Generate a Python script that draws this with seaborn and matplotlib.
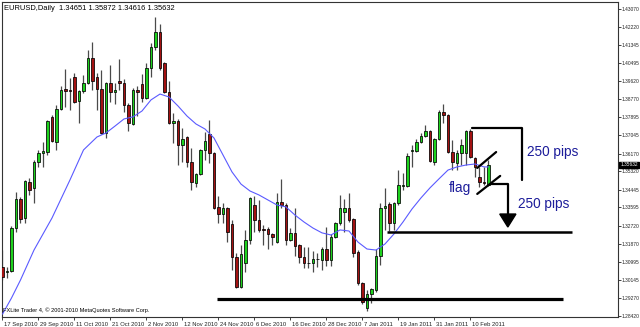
import matplotlib
matplotlib.use("Agg")
import matplotlib.pyplot as plt
import matplotlib.transforms as mtransforms
from matplotlib.patches import Polygon
import numpy as np
import pandas as pd
import seaborn as sns

# ---------------- data (EURUSD daily) ----------------
opens = [1.3076, 1.3051, 1.3056, 1.3262, 1.3400, 1.3309, 1.3481, 1.3453, 1.3576, 1.3620,
         1.3624, 1.3792, 1.3672, 1.3830, 1.3925, 1.3920, 1.3983, 1.3868, 1.3915, 1.3954,
         1.4073, 1.3983, 1.3925, 1.3715, 1.3954, 1.3910, 1.3963, 1.3954, 1.3849, 1.3758,
         1.3920, 1.3949, 1.3882, 1.4025, 1.4126, 1.4197, 1.4049, 1.3910, 1.3763, 1.3772,
         1.3658, 1.3696, 1.3576, 1.3476, 1.3519, 1.3634, 1.3710, 1.3620, 1.3362, 1.3328,
         1.3357, 1.3281, 1.3123, 1.2980, 1.3094, 1.3204, 1.3371, 1.3300, 1.3257, 1.3257,
         1.3233, 1.3194, 1.3385, 1.3371, 1.3204, 1.3238, 1.3180, 1.3123, 1.3094, 1.3094,
         1.3113, 1.3109, 1.3161, 1.3109, 1.3218, 1.3286, 1.3338, 1.3357, 1.3304, 1.3146,
         1.2999, 1.2880, 1.2946, 1.2965, 1.3127, 1.3357, 1.3376, 1.3286, 1.3381, 1.3462,
         1.3462, 1.3629, 1.3629, 1.3672, 1.3701, 1.3724, 1.3576, 1.3686, 1.3815, 1.3801,
         1.3624, 1.3572, 1.3620, 1.3620, 1.3724, 1.3596, 1.3505, 1.3481, 1.34651]
highs = [1.3156, 1.3076, 1.3271, 1.3433, 1.3409, 1.3491, 1.3501, 1.3586, 1.3634, 1.3672,
         1.3777, 1.3801, 1.3849, 1.3939, 1.4021, 1.3978, 1.4002, 1.3920, 1.3992, 1.4111,
         1.4150, 1.4002, 1.4016, 1.3958, 1.4040, 1.3954, 1.4068, 1.3973, 1.3858, 1.3930,
         1.3939, 1.3997, 1.4049, 1.4145, 1.4269, 1.4235, 1.4054, 1.3963, 1.3811, 1.3782,
         1.3739, 1.3701, 1.3643, 1.3524, 1.3638, 1.3720, 1.3777, 1.3624, 1.3414, 1.3381,
         1.3360, 1.3300, 1.3142, 1.3180, 1.3252, 1.3409, 1.3414, 1.3395, 1.3276, 1.3266,
         1.3238, 1.3429, 1.3496, 1.3381, 1.3262, 1.3357, 1.3185, 1.3171, 1.3171, 1.3151,
         1.3142, 1.3171, 1.3266, 1.3233, 1.3290, 1.3419, 1.3400, 1.3429, 1.3309, 1.3156,
         1.3003, 1.2965, 1.2975, 1.3161, 1.3381, 1.3453, 1.3385, 1.3385, 1.3538, 1.3524,
         1.3620, 1.3658, 1.3686, 1.3715, 1.3753, 1.3729, 1.3691, 1.3825, 1.3853, 1.3806,
         1.3682, 1.3634, 1.3686, 1.3729, 1.3734, 1.3600, 1.3553, 1.3553, 1.35872]
lows = [1.3013, 1.3023, 1.3051, 1.3242, 1.3286, 1.3286, 1.3419, 1.3381, 1.3553, 1.3553,
        1.3610, 1.3672, 1.3634, 1.3825, 1.3840, 1.3825, 1.3858, 1.3763, 1.3906, 1.3949,
        1.3920, 1.3825, 1.3710, 1.3691, 1.3863, 1.3853, 1.3920, 1.3815, 1.3724, 1.3753,
        1.3796, 1.3863, 1.3878, 1.3983, 1.4111, 1.4016, 1.3906, 1.3758, 1.3667, 1.3562,
        1.3576, 1.3553, 1.3443, 1.3457, 1.3514, 1.3586, 1.3572, 1.3352, 1.3286, 1.3286,
        1.3194, 1.3061, 1.2975, 1.2975, 1.3051, 1.3185, 1.3242, 1.3242, 1.3180, 1.3161,
        1.3180, 1.3190, 1.3357, 1.3180, 1.3199, 1.3127, 1.3094, 1.3070, 1.3070, 1.3051,
        1.3075, 1.3061, 1.3080, 1.3080, 1.3214, 1.3276, 1.3242, 1.3290, 1.3123, 1.2989,
        1.2898, 1.2865, 1.2903, 1.2956, 1.3085, 1.3252, 1.3247, 1.3252, 1.3371, 1.3443,
        1.3457, 1.3553, 1.3624, 1.3667, 1.3696, 1.3576, 1.3562, 1.3682, 1.3763, 1.3620,
        1.3538, 1.3538, 1.3562, 1.3562, 1.3596, 1.3505, 1.3457, 1.3467, 1.34616]
closes = [1.3028, 1.3056, 1.3262, 1.3400, 1.3304, 1.3486, 1.3443, 1.3576, 1.3620, 1.3629,
          1.3772, 1.3677, 1.3830, 1.3920, 1.3915, 1.3915, 1.3863, 1.3915, 1.3954, 1.4073,
          1.3963, 1.3925, 1.3715, 1.3954, 1.3910, 1.3920, 1.3954, 1.3849, 1.3763, 1.3920,
          1.3910, 1.3882, 1.4025, 1.4126, 1.4197, 1.4025, 1.3910, 1.3763, 1.3772, 1.3658,
          1.3686, 1.3576, 1.3481, 1.3519, 1.3634, 1.3677, 1.3620, 1.3357, 1.3328, 1.3357,
          1.3242, 1.3123, 1.2980, 1.3137, 1.3204, 1.3405, 1.3300, 1.3252, 1.3252, 1.3233,
          1.3218, 1.3385, 1.3371, 1.3204, 1.3238, 1.3175, 1.3123, 1.3094, 1.3092, 1.3113,
          1.3115, 1.3161, 1.3109, 1.3218, 1.3286, 1.3357, 1.3357, 1.3300, 1.3142, 1.2999,
          1.2908, 1.2946, 1.2970, 1.3127, 1.3357, 1.3366, 1.3286, 1.3381, 1.3467, 1.3467,
          1.3605, 1.3634, 1.3672, 1.3701, 1.3724, 1.3581, 1.3686, 1.3815, 1.3801, 1.3624,
          1.3576, 1.3620, 1.3658, 1.3724, 1.3600, 1.3553, 1.3481, 1.3476, 1.35632]

# moving average (read at selected bars)
ma_bars = [0, 2, 4, 7, 11, 15, 18, 21, 23, 25, 27, 29, 31, 33, 35, 37, 39, 41, 43, 45,
           47, 49, 51, 53, 55, 57, 59, 61, 63, 65, 67, 69, 71, 73, 75, 77, 79, 81, 83, 85,
           87, 89, 91, 93, 95, 97, 99, 101, 103, 105, 107, 108]
ma_values = [1.2850, 1.2927, 1.3013, 1.3156, 1.3309, 1.3491, 1.3634, 1.3696, 1.3715, 1.3748,
             1.3782, 1.3792, 1.3820, 1.3873, 1.3901, 1.3887, 1.3844, 1.3796, 1.3758, 1.3734,
             1.3691, 1.3610, 1.3529, 1.3471, 1.3438, 1.3419, 1.3395, 1.3371, 1.3362, 1.3323,
             1.3290, 1.3261, 1.3238, 1.3228, 1.3252, 1.3247, 1.3194, 1.3161, 1.3156, 1.3185,
             1.3233, 1.3290, 1.3352, 1.3405, 1.3453, 1.3496, 1.3538, 1.3553, 1.3562, 1.3567,
             1.3553, 1.3553]

date_bars = [0, 8, 16, 24, 32, 40, 48, 56, 64, 72, 80, 88, 96, 104]
date_labels = ["17 Sep 2010", "29 Sep 2010", "11 Oct 2010", "21 Oct 2010", "2 Nov 2010",
               "12 Nov 2010", "24 Nov 2010", "6 Dec 2010", "16 Dec 2010", "28 Dec 2010",
               "7 Jan 2011", "19 Jan 2011", "31 Jan 2011", "10 Feb 2011"]
price_ticks = [1.43070, 1.42220, 1.41345, 1.40495, 1.39620, 1.38770, 1.37895, 1.37045,
               1.36170, 1.35320, 1.34445, 1.33595, 1.32720, 1.31870, 1.30995, 1.30145,
               1.29270, 1.28420]
last_price = 1.35632

# drawn objects (bar index, price)
support_line = dict(x0=47.7, x1=124.6, price=1.2920)
breakout_line = dict(x0=85.4, x1=126.6, price=1.3242)
bracket = dict(x0=104.3, x1=115.4, top=1.3739, bottom=1.3491)
flag_upper = ([105.5, 109.7], [1.3548, 1.3624])
flag_lower = ([105.5, 110.6], [1.3424, 1.3510])
arrow = dict(x0=108.3, x1=112.3, top=1.3471, base=1.3328, tip=1.3266, half=1.8)

# ---------------- drawing ----------------
sns.set_theme(style="white")
plt.rcParams["font.family"] = ["Liberation Sans", "DejaVu Sans"]

W, H = 640, 327
fig = plt.figure(figsize=(W / 100, H / 100), dpi=100)
fig.patch.set_facecolor("white")
left_px, right_px, top_px, bottom_px = 2, 618, 2, 317
ax = fig.add_axes([left_px / W, 1 - bottom_px / H, (right_px - left_px) / W, (bottom_px - top_px) / H])
ax.set_facecolor("white")

df = pd.DataFrame({"bar": np.arange(len(opens)), "open": opens, "high": highs,
                   "low": lows, "close": closes})
up = df["close"] >= df["open"]
bull_col, bear_col = "#1ed21e", "#a31212"

ax.vlines(df["bar"], df["low"], df["high"], color="#4a4a4a", lw=0.9, zorder=2)
body_bottom = np.minimum(df["open"], df["close"])
body_h = np.maximum(np.abs(df["close"] - df["open"]), 0.00012)
ax.bar(df["bar"], body_h, bottom=body_bottom, width=0.62,
       color=np.where(up, bull_col, bear_col), edgecolor="black", linewidth=0.55, zorder=3)

ma_df = pd.DataFrame({"bar": ma_bars, "ma": ma_values})
sns.lineplot(data=ma_df, x="bar", y="ma", ax=ax, color="#5a5aff", lw=0.8, zorder=4)

# annotations
k = "black"
ax.plot([support_line["x0"], support_line["x1"]], [support_line["price"]] * 2, color=k, lw=2.3, zorder=5, solid_capstyle="butt")
ax.plot([breakout_line["x0"], breakout_line["x1"]], [breakout_line["price"]] * 2, color=k, lw=1.8, zorder=5, solid_capstyle="butt")
ax.plot([bracket["x0"], bracket["x1"], bracket["x1"]], [bracket["top"], bracket["top"], bracket["bottom"]],
        color=k, lw=1.6, zorder=5)
ax.plot(*flag_upper, color=k, lw=1.6, zorder=5)
ax.plot(*flag_lower, color=k, lw=1.6, zorder=5)
ax.plot([arrow["x0"], arrow["x1"], arrow["x1"]], [arrow["top"], arrow["top"], arrow["base"]], color=k, lw=1.6, zorder=5)
ax.add_patch(Polygon([[arrow["x1"] - arrow["half"], arrow["base"]], [arrow["x1"] + arrow["half"], arrow["base"]],
                      [arrow["x1"], arrow["tip"]]], closed=True, color=k, zorder=5))

navy = "#1c1c9a"
ax.text(101.6, 1.3453, "flag", color=navy, fontsize=9.8, ha="center", va="center", zorder=6)
ax.text(116.6, 1.3624, "250 pips", color=navy, fontsize=9.8, ha="left", va="center", zorder=6)
ax.text(114.6, 1.3376, "250 pips", color=navy, fontsize=9.8, ha="left", va="center", zorder=6)

# axes limits / ticks
ax.set_xlim(-0.11, 136.78)
ax.set_ylim(1.28363, 1.43405)
ax.set_xlabel("")
ax.set_ylabel("")
for s in ax.spines.values():
    s.set_visible(True)
    s.set_color("#333333")
    s.set_linewidth(0.8)
ax.yaxis.tick_right()
ax.set_yticks(price_ticks)
ax.set_yticklabels([f"{p:.5f}" for p in price_ticks])
ax.set_xticks(date_bars)
ax.set_xticklabels(date_labels, ha="left")
ax.tick_params(axis="x", direction="out", length=2.5, width=0.6, colors="#222222",
               pad=1.0, labelsize=4.2, bottom=True)
ax.tick_params(axis="y", direction="out", length=1.8, width=0.6, colors="#222222",
               pad=0.5, labelsize=3.55, left=False, right=True)
for lab in ax.get_xticklabels():
    lab.set_transform(lab.get_transform() + mtransforms.ScaledTranslation(1.5 / 100, 0, fig.dpi_scale_trans))

# current price box
trans = mtransforms.blended_transform_factory(ax.transAxes, ax.transData)
ax.text(1.0035, last_price, f"{last_price:.5f}", transform=trans, fontsize=3.55, color="white",
        ha="left", va="center", zorder=10, clip_on=False,
        bbox=dict(boxstyle="square,pad=0.15", fc="black", ec="black"))

ax.text(0.003, 0.992, "EURUSD,Daily  1.34651 1.35872 1.34616 1.35632", transform=ax.transAxes,
        fontsize=5.4, color="black", ha="left", va="top", zorder=10)
ax.text(0.002, 0.012, "FXLite Trader 4, \u00a9 2001-2010 MetaQuotes Software Corp.", transform=ax.transAxes,
        fontsize=4.1, color="black", ha="left", va="bottom", zorder=10)

fig.savefig("out.png", dpi=100, facecolor="white")
